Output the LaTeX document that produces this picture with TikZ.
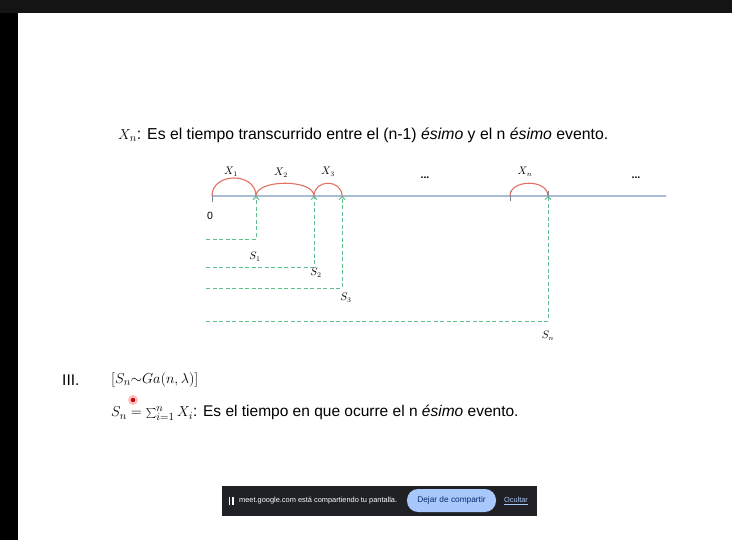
\documentclass[tikz,border=0pt]{standalone}
\usepackage{fontspec}
\setmainfont{Liberation Sans}
\usetikzlibrary{arrows.meta,positioning,calc}
\definecolor{arcred}{RGB}{226,112,98}
\definecolor{axisblue}{RGB}{168,188,214}
\definecolor{dashgreen}{RGB}{96,190,140}
\definecolor{barbg}{RGB}{32,33,36}
\definecolor{btnblue}{RGB}{168,199,250}
\definecolor{btntext}{RGB}{6,46,111}

\begin{document}
\begin{tikzpicture}[x=1pt,y=-1pt,
axis/.style={axisblue,line width=1.3pt},
tickmark/.style={axisblue!70!black,line width=0.9pt},
arcx/.style={arcred,line width=1.1pt},
sline/.style={dashgreen,dash pattern=on 4pt off 2.5pt,line width=0.9pt},
sarrow/.style={sline,-{Straight Barb[length=3pt,width=6pt]}},
lab/.style={inner sep=0pt,font=\fontsize{10.5}{11}\selectfont},
txt/.style={inner sep=0pt,anchor=west,font=\fontsize{15.5}{17}\selectfont}]

\useasboundingbox (0,0) rectangle (732,540);
\fill[white] (0,0) rectangle (732,540);
\fill[black!92] (0,0) rectangle (732,13.5);
\fill[black] (0,13.5) rectangle (18,540);

\node[txt,font=\fontsize{15.8}{17}\selectfont] (def) at (118,135) {$X_n$: Es el tiempo transcurrido entre el (n-1) \textit{ésimo} y el n \textit{ésimo} evento.};

\coordinate (p0) at (212,196);
\coordinate (p1) at (256,196);
\coordinate (p2) at (314,196);
\coordinate (p3) at (342,196);
\coordinate (pm) at (510,196);
\coordinate (pn) at (548,196);
\coordinate (pend) at (666,196);
\draw[axis] (p0) -- (pend);
\draw[tickmark] ($(p0)+(0,-5)$) -- ($(p0)+(0,6)$);
\draw[tickmark] ($(pm)+(0,-5)$) -- ($(pm)+(0,5)$);
\draw[tickmark] ($(pn)+(0,-5)$) -- ($(pn)+(0,5)$);

\draw[arcx] (p0) .. controls +(0,-24) and +(0,-24) .. (p1);
\draw[arcx] (p1) .. controls +(0,-17) and +(0,-17) .. (p2);
\draw[arcx] (p2) .. controls +(0,-17) and +(0,-17) .. (p3);
\draw[arcx] (pm) .. controls +(0,-17) and +(0,-17) .. (pn);

\node[lab] (x1) at (231,172) {$X_1$};
\node[lab] (x2) at (281,173) {$X_2$};
\node[lab] (x3) at (328,172) {$X_3$};
\node[lab] (xn) at (525,172) {$X_n$};
\node[lab] (dots1) at (425,178) {\textbf{...}};
\node[lab] (dots2) at (636,178) {\textbf{...}};
\node[lab] (zero) at (210,216) {0};

\coordinate (h1) at (206,239);
\coordinate (h2) at (206,267);
\coordinate (h3) at (206,288);
\coordinate (hn) at (206,321);
\draw[sarrow] (h1) -| (p1);
\draw[sarrow] (h2) -| (p2);
\draw[sarrow] (h3) -| (p3);
\draw[sarrow] (hn) -| (pn);

\node[lab] (s1) at (255,257) {$S_1$};
\node[lab] (s2) at (316,273) {$S_2$};
\node[lab] (s3) at (346,298) {$S_3$};
\node[lab] (sn) at (548,336) {$S_n$};

\node[txt] (num) at (62,380) {III.};
\node[txt] (dist) at (111,380) {$[S_n{\sim}Ga(n,\lambda)]$};
\node[txt] (sum) at (111,413) {$S_n=\sum_{i=1}^n X_i$: Es el tiempo en que ocurre el n \textit{ésimo} evento.};
\fill[red!25] (133,400) circle (5);
\fill[red!80!black] (133,400) circle (2.2);

\node[fill=barbg,minimum width=315pt,minimum height=30pt] (bar) at (379.5,501) {};
\fill[white] (228.5,497) rectangle (230,505);
\fill[white] (232,497) rectangle (233.5,505);
\node[anchor=west,inner sep=0pt,text=white,font=\fontsize{7.4}{8}\selectfont] (msg) at (239,501) {meet.google.com está compartiendo tu pantalla.};
\node[fill=btnblue,rounded corners=11pt,minimum width=89pt,minimum height=23pt,inner sep=0pt,text=btntext,font=\fontsize{8.3}{9}\selectfont] (btn) at (451.5,500.5) {Dejar de compartir};
\node[inner sep=0pt,text=btnblue,font=\fontsize{7.4}{8}\selectfont] (hide) at (516,501) {\underline{Ocultar}};
\end{tikzpicture}
\end{document}
